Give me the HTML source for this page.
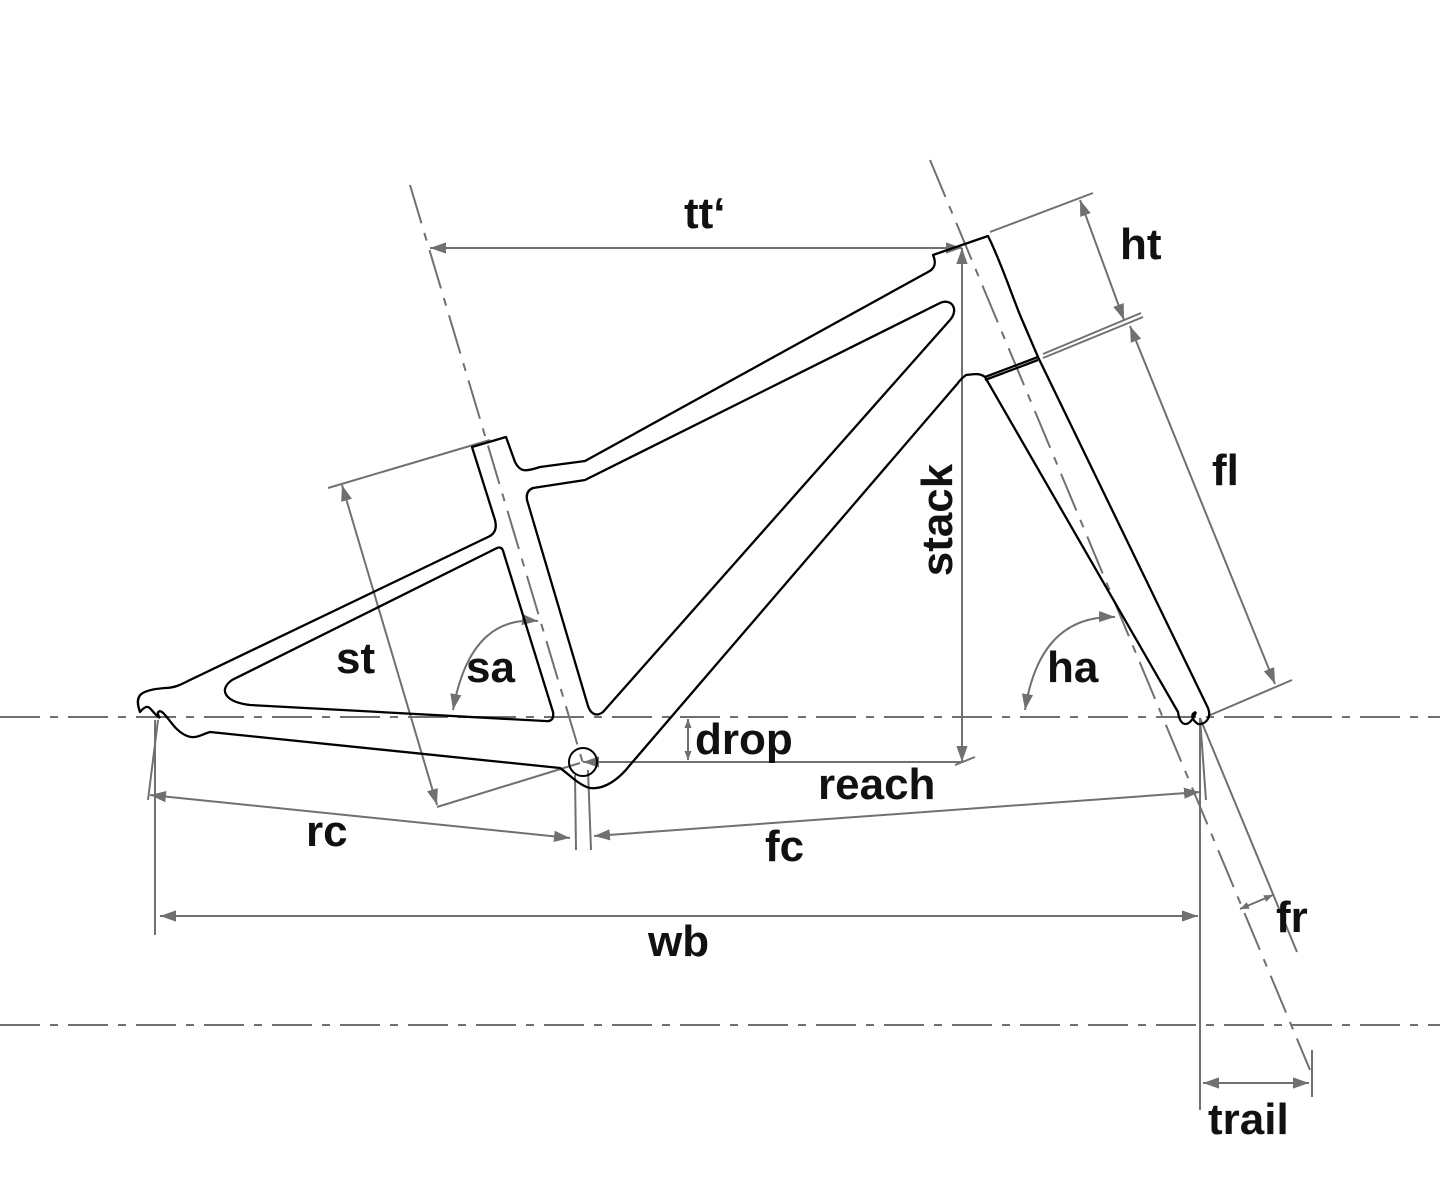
<!DOCTYPE html>
<html><head><meta charset="utf-8"><style>
html,body{margin:0;padding:0;background:#fff;}
svg{display:block;}
text{font-family:"Liberation Sans",sans-serif;font-weight:bold;font-size:44px;fill:#111;}
</style></head><body>
<svg width="1440" height="1200" viewBox="0 0 1440 1200" xmlns="http://www.w3.org/2000/svg">
<defs>
<marker id="a" viewBox="0 0 10 10" refX="10" refY="5" markerWidth="9" markerHeight="9" orient="auto-start-reverse" markerUnits="userSpaceOnUse"><path d="M0,1 L10,5 L0,9 z" fill="#707070"/></marker>
<marker id="b" viewBox="0 0 10 10" refX="10" refY="5" markerWidth="16" markerHeight="16" orient="auto-start-reverse" markerUnits="userSpaceOnUse"><path d="M0,1.5 L10,5 L0,8.5 z" fill="#707070"/></marker>
</defs>
<g stroke="#707070" stroke-width="2" fill="none">
<line x1="0" y1="717" x2="1440" y2="717" stroke-dasharray="40,10,8,10"/>
<line x1="0" y1="1025" x2="1440" y2="1025" stroke-dasharray="40,10,8,10"/>
<line x1="410" y1="185" x2="585" y2="770" stroke-dasharray="40,10,8,10"/>
<line x1="930" y1="160" x2="1310" y2="1070" stroke-dasharray="40,10,8,10"/>
<line x1="430" y1="248" x2="962" y2="248" marker-start="url(#b)" marker-end="url(#b)"/>
<line x1="962" y1="762" x2="962" y2="248" marker-start="url(#b)" marker-end="url(#b)"/>
<line x1="583" y1="762" x2="962" y2="762" marker-start="url(#b)"/>
<line x1="955" y1="765" x2="975" y2="757"/>
<line x1="688" y1="719" x2="688" y2="760" marker-start="url(#a)" marker-end="url(#a)"/>
<line x1="990" y1="232" x2="1093" y2="193"/>
<line x1="1080" y1="200" x2="1124" y2="320" marker-start="url(#b)" marker-end="url(#b)"/>
<line x1="1043" y1="354" x2="1141" y2="313"/>
<line x1="1043" y1="358" x2="1143" y2="317"/>
<line x1="1130" y1="326" x2="1275" y2="684" marker-start="url(#b)" marker-end="url(#b)"/>
<line x1="1208" y1="716" x2="1292" y2="680"/>
<line x1="328" y1="488" x2="490" y2="440"/>
<line x1="342" y1="485" x2="437" y2="805" marker-start="url(#b)" marker-end="url(#b)"/>
<line x1="437" y1="807" x2="580" y2="763"/>
<line x1="155" y1="720" x2="155" y2="935"/>
<line x1="148" y1="800" x2="158" y2="720"/>
<line x1="575" y1="775" x2="576" y2="850"/>
<line x1="588" y1="770" x2="591" y2="850"/>
<line x1="1200" y1="718" x2="1200" y2="1110"/>
<line x1="1200" y1="718" x2="1206" y2="800"/>
<line x1="150" y1="795" x2="570" y2="838" marker-start="url(#b)" marker-end="url(#b)"/>
<line x1="594" y1="836" x2="1200" y2="792" marker-start="url(#b)" marker-end="url(#b)"/>
<line x1="160" y1="916" x2="1198" y2="916" marker-start="url(#b)" marker-end="url(#b)"/>
<line x1="1200" y1="718" x2="1297" y2="952"/>
<line x1="1240" y1="909" x2="1273" y2="895" marker-start="url(#a)" marker-end="url(#a)"/>
<line x1="1203" y1="1083" x2="1309" y2="1083" marker-start="url(#b)" marker-end="url(#b)"/>
<line x1="1312" y1="1050" x2="1312" y2="1097"/>
<path d="M538,621 Q470,615 453,710" marker-start="url(#b)" marker-end="url(#b)"/>
<path d="M1115,617 Q1040,615 1025,710" marker-start="url(#b)" marker-end="url(#b)"/>
</g>
<g stroke="#000" stroke-width="2.3" fill="none" stroke-linejoin="round">
<path d="M160,718 C150,712 150,700 140,712 C134,695 140,690 165,688 C175,688 182,684 190,680 L488,537 C495,534 497,528 495,520 L472,447 L506,437 L515,462 C520,472 525,472 540,467 L585,461 L928,272 C936,268 936,262 933,255 L988,236 C1000,260 1010,290 1020,315 L1038,357 L1208,708 C1212,718 1205,725 1198,724 C1192,720 1190,714 1196,712"/>
<path d="M1196,712 C1190,728 1180,728 1178,712 L985,377 C980,373 975,374 966,375 C962,378 960,380 958,383 L630,765 C620,778 605,790 590,788 C580,786 570,775 560,768 L210,732 C200,735 195,740 185,735 C175,730 170,720 165,715 C160,708 155,712 160,718"/>
<path d="M533,488 L585,480 L940,303 C950,298 960,308 950,320 L603,712 C595,718 590,712 588,706 L527,500 C526,494 528,490 533,488 Z"/>
<path d="M497,548 C502,546 503,550 504,554 L553,712 C554,718 552,722 545,721 L250,705 C225,702 218,690 232,680 Z"/>
<line x1="985" y1="377" x2="1038" y2="357"/>
<line x1="985" y1="380" x2="1038" y2="360"/>
<circle cx="583" cy="762" r="14" stroke-width="2"/>
</g>
<text x="684" y="228">tt‘</text>
<text x="1120" y="259">ht</text>
<text x="1212" y="485">fl</text>
<text x="937" y="535" transform="rotate(-90 937 520)" text-anchor="middle">stack</text>
<text x="336" y="673">st</text>
<text x="466" y="682">sa</text>
<text x="1047" y="682">ha</text>
<text x="695" y="754">drop</text>
<text x="818" y="799">reach</text>
<text x="306" y="846">rc</text>
<text x="765" y="861">fc</text>
<text x="648" y="956">wb</text>
<text x="1276" y="932">fr</text>
<text x="1208" y="1134">trail</text>
</svg>
</body></html>
